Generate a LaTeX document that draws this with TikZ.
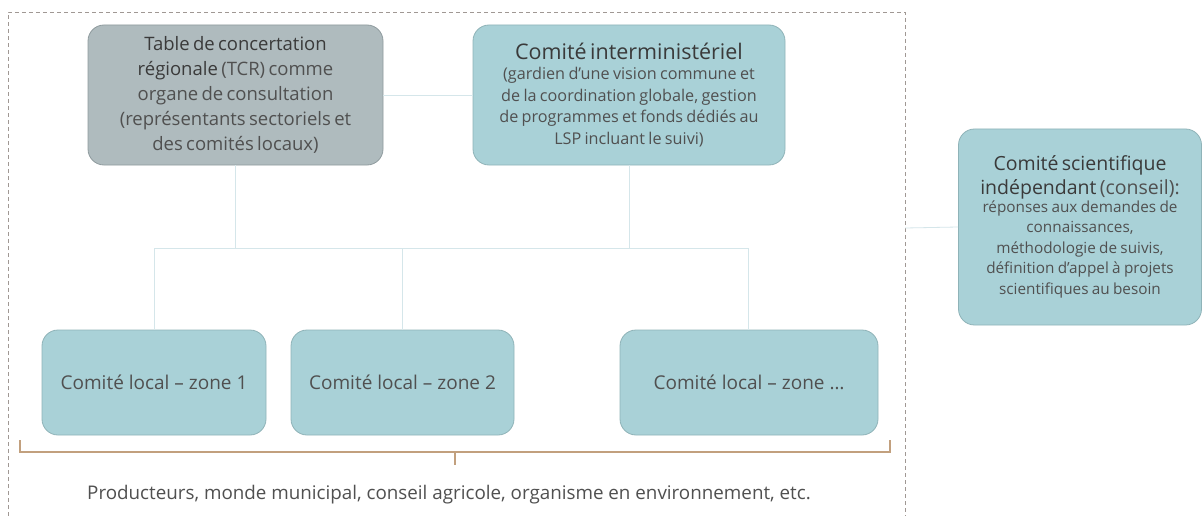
\documentclass[tikz,border=0pt]{standalone}
\usepackage{fontspec}
\setmainfont{Open Sans}
\definecolor{teal}{HTML}{A9D1D7}
\definecolor{tealborder}{HTML}{8FB3B8}
\definecolor{greybox}{HTML}{AFBBBE}
\definecolor{greyborder}{HTML}{8F9B9E}
\definecolor{linec}{HTML}{D5E6EA}
\definecolor{framec}{HTML}{A09894}
\definecolor{bracketc}{HTML}{C2A07E}
\definecolor{txt}{HTML}{3A3A3A}
\definecolor{txtl}{HTML}{505050}
\tikzset{
  box/.style={draw=tealborder, line width=0.8pt, fill=teal, rounded corners=16pt, align=center, inner sep=0pt, text=txt},
  greyb/.style={box, draw=greyborder, fill=greybox},
  conn/.style={draw=linec, line width=0.8pt},
  frame/.style={draw=framec, dashed, dash pattern=on 4pt off 3pt, line width=0.6pt},
  brack/.style={draw=bracketc, line width=1.6pt}
}
\begin{document}
\begin{tikzpicture}[x=1pt,y=-1pt]
\useasboundingbox (0,0) rectangle (1202,516);
\fill[white] (0,0) rectangle (1202,516);
% dashed frame
\draw[frame] (8,530) -- (8,12) -- (905,12) -- (905,530);
\coordinate (fr) at (905,228);
% boxes
\node[greyb, minimum width=295pt, minimum height=140pt, text width=290pt] (tcr) at (235.5,95)
  {\fontsize{18.5}{25}\selectfont Table de concertation\\ régionale {\color{txtl}(TCR) comme}\\ {\color{txtl}organe de consultation}\\ {\color{txtl}(représentants sectoriels et}\\ {\color{txtl}des comités locaux)}\par};
\node[box, minimum width=312pt, minimum height=140pt, text width=308pt] (ci) at (629,95)
  {\fontsize{21.5}{24}\selectfont Comité interministériel\par\vspace{-1pt}
   \fontsize{16.2}{21.5}\selectfont\color{txtl}(gardien d’une vision commune et\\ de la coordination globale, gestion\\ de programmes et fonds dédiés au\\ LSP incluant le suivi)\par};
\node[box, minimum width=243pt, minimum height=196pt, text width=242pt] (sci) at (1080,227)
  {\fontsize{19.5}{24}\selectfont Comité scientifique\\ indépendant {\color{txtl}(conseil):}\par\vspace{-3pt}
   \fontsize{15.3}{20.5}\selectfont\color{txtl}réponses aux demandes de\\ connaissances,\\ méthodologie de suivis,\\ définition d’appel à projets\\ scientifiques au besoin\par};
\node[box, minimum width=224pt, minimum height=105pt] (l1) at (154,382.5)
  {\fontsize{19}{22}\selectfont\color{txtl}Comité local – zone 1};
\node[box, minimum width=223pt, minimum height=105pt] (l2) at (402.5,382.5)
  {\fontsize{19}{22}\selectfont\color{txtl}Comité local – zone 2};
\node[box, minimum width=258pt, minimum height=105pt] (l3) at (749,382.5)
  {\fontsize{19}{22}\selectfont\color{txtl}Comité local – zone …};
% connectors
\coordinate (hl) at (154,248);
\coordinate (hr) at (748,248);
\draw[conn] (tcr.east) -- (ci.west);
\draw[conn] (tcr.south) -- (tcr.south |- hl);
\draw[conn] (ci.south) -- (ci.south |- hl);
\draw[conn] (hl) -- (hr);
\draw[conn] (hl) -- (l1.north);
\draw[conn] (l2.north |- hl) -- (l2.north);
\draw[conn] (hr) -- (hr |- l3.north);
\draw[conn] (fr) -- (sci.west);
% bracket
\coordinate (b1) at (20,440);
\coordinate (b2) at (890,440);
\coordinate (bm) at (455,452);
\draw[brack] (b1) -- (20,452) -- (890,452) -- (b2);
\draw[brack] (bm) -- (455,465);
\node[text=txtl, font=\fontsize{18.8}{21}\selectfont] (lbl) at (449,495)
  {Producteurs, monde municipal, conseil agricole, organisme en environnement, etc.};
\end{tikzpicture}
\end{document}
